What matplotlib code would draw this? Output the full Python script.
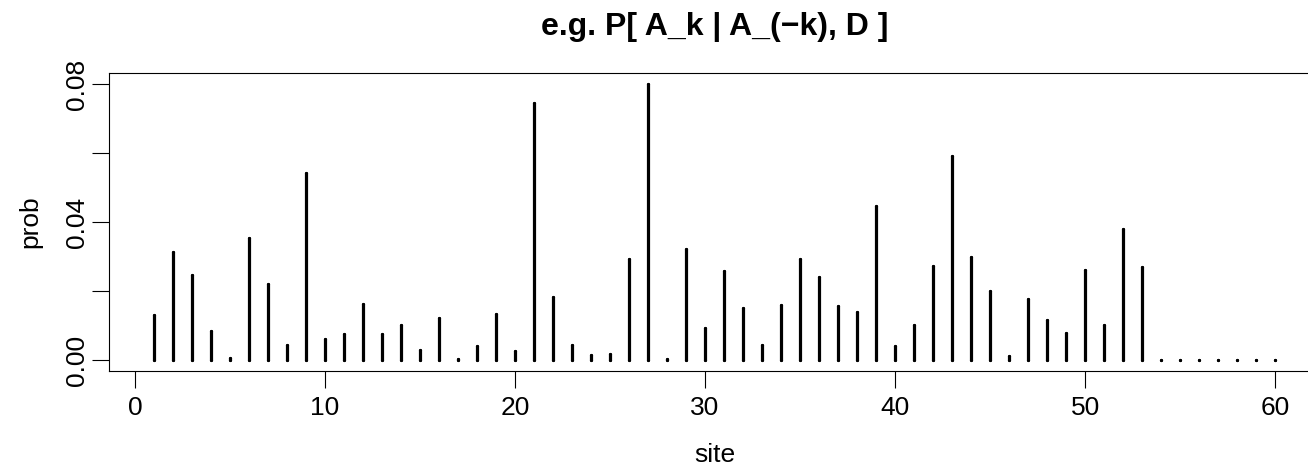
import matplotlib
matplotlib.use("Agg")
import matplotlib.pyplot as plt
import numpy as np

sites = list(range(1, 61))
prob = [0.0129, 0.0312, 0.0247, 0.0084, 0.0007, 0.0354, 0.0220, 0.0044, 0.0543, 0.0061,
        0.0075, 0.0163, 0.0074, 0.0102, 0.0030, 0.0121, 0.0003, 0.0040, 0.0133, 0.0025,
        0.0746, 0.0183, 0.0043, 0.0013, 0.0017, 0.0292, 0.0802, 0.0003, 0.0322, 0.0093,
        0.0258, 0.0150, 0.0042, 0.0158, 0.0294, 0.0240, 0.0157, 0.0140, 0.0447, 0.0041,
        0.0100, 0.0274, 0.0593, 0.0300, 0.0201, 0.0010, 0.0176, 0.0116, 0.0079, 0.0260,
        0.0100, 0.0381, 0.0271, 0.0, 0.0, 0.0, 0.0, 0.0, 0.0, 0.0]
xticks = [0, 10, 20, 30, 40, 50, 60]
yticks = [0.00, 0.02, 0.04, 0.06, 0.08]
ylabels = ["0.00", "", "0.04", "", "0.08"]

plt.rcParams['font.family'] = ['Liberation Sans', 'DejaVu Sans']

W, H = 1308, 468
fig = plt.figure(figsize=(W / 100, H / 100), dpi=100)
ax = fig.add_axes([109 / W, 1 - 371 / H, (1320 - 109) / W, (371 - 72.5) / H])

lw = 2.3
ax.vlines(sites, 0, prob, colors='black', linewidth=lw, capstyle='round')
ax.plot(sites, prob, 'o', color='black', ms=lw, mew=0)
ax.plot(sites, np.zeros(len(sites)), 'o', color='black', ms=lw, mew=0)

x = np.array(sites)
y = np.array(prob)
pad_x = 0.04 * (x.max() - x.min())
pad_y = 0.04 * (y.max() - y.min())
ax.set_xlim(x.min() - pad_x, x.max() + pad_x)
ax.set_ylim(y.min() - pad_y, y.max() + pad_y)

fs = 19
ax.set_xticks(xticks)
ax.set_xticklabels([str(t) for t in xticks])
ax.set_yticks(yticks)
ax.set_yticklabels(ylabels, rotation=90, va='center')
ax.tick_params(axis='both', direction='out', length=12.2, width=0.8, labelsize=fs)
ax.tick_params(axis='x', pad=5.5)
ax.tick_params(axis='y', pad=2.5)
for s in ax.spines.values():
    s.set_linewidth(0.8)

ax.set_xlabel("site", fontsize=fs, labelpad=17)
ax.set_ylabel("prob", fontsize=fs, labelpad=16)
ax.set_title("e.g. P[ A_k | A_(\u2212k), D ]", fontsize=23, fontweight='bold', pad=27)

fig.savefig("out.png", dpi=100)
